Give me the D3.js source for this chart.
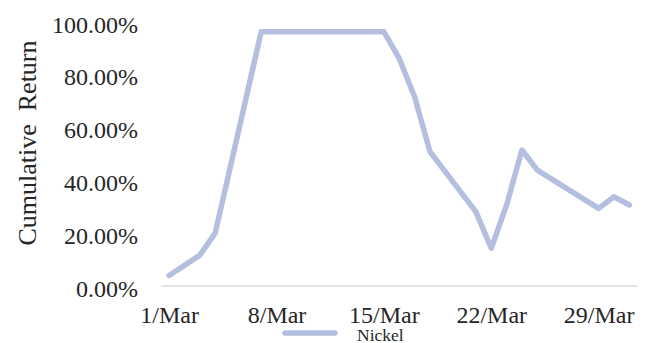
<!DOCTYPE html>
<html>
<head>
<meta charset="utf-8">
<script src="https://cdn.jsdelivr.net/npm/d3@7"></script>
<style>
  html, body { margin: 0; padding: 0; background: #fff; }
  svg { display: block; }
  text { font-family: "Liberation Serif", "Times New Roman", serif; fill: #262626; }
</style>
</head>
<body>
<svg id="chart" width="653" height="343"></svg>
<script>
// Trading days in March and cumulative return of nickel (%)
const dates = ["2022-03-01","2022-03-02","2022-03-03","2022-03-04","2022-03-07","2022-03-08",
  "2022-03-09","2022-03-10","2022-03-11","2022-03-14","2022-03-15","2022-03-16","2022-03-17",
  "2022-03-18","2022-03-21","2022-03-22","2022-03-23","2022-03-24","2022-03-25","2022-03-28",
  "2022-03-29","2022-03-30","2022-03-31"];
const nickel = [4.0, 7.8, 11.7, 20.0, 96.3, 96.3, 96.3, 96.3, 96.3, 96.3, 96.3, 86.2, 71.7,
  50.9, 28.1, 14.3, 30.7, 51.5, 43.9, 33.0, 29.4, 33.8, 30.7];
const yTicks = [0, 20, 40, 60, 80, 100];
const xTickDates = ["2022-03-01","2022-03-08","2022-03-15","2022-03-22","2022-03-29"];
const seriesName = "Nickel";
const yTitle = "Cumulative  Return";

const parse = d3.utcParse("%Y-%m-%d");
const data = dates.map((d, i) => ({ date: parse(d), value: nickel[i] }));

const svg = d3.select("#chart");
const lineColor = "#b4bfdf";
const halfDay = 12 * 3600 * 1000;

const x = d3.scaleUtc()
  .domain([new Date(parse("2022-03-01").getTime() - halfDay),
           new Date(parse("2022-03-31").getTime() + halfDay)])
  .range([161.5, 637]);
const y = d3.scaleLinear().domain([0, 100]).range([286, 22]);

// Baseline
svg.append("line")
  .attr("x1", x.range()[0]).attr("x2", x.range()[1])
  .attr("y1", y(0)).attr("y2", y(0))
  .attr("stroke", "#d9d9d9").attr("stroke-width", 1.3);

// Y axis labels
const yAxis = d3.axisLeft(y).tickValues(yTicks)
  .tickFormat(d => d.toFixed(2) + "%").tickSize(0).tickPadding(0);
const gy = svg.append("g").attr("transform", "translate(138,0)").call(yAxis);
gy.select(".domain").remove();
gy.selectAll("text")
  .attr("font-family", "Liberation Serif, Times New Roman, serif")
  .attr("font-size", 24).attr("fill", "#262626").attr("dy", "0.42em");

// X axis labels
const xAxis = d3.axisBottom(x).tickValues(xTickDates.map(parse))
  .tickFormat(d3.utcFormat("%-d/%b")).tickSize(0).tickPadding(0);
const gx = svg.append("g").attr("transform", "translate(0,306)").call(xAxis);
gx.select(".domain").remove();
gx.selectAll("text")
  .attr("font-family", "Liberation Serif, Times New Roman, serif")
  .attr("font-size", 24).attr("fill", "#262626").attr("dy", "0.72em");

// Y title
svg.append("text")
  .attr("transform", "translate(36,143) rotate(-90)")
  .attr("text-anchor", "middle")
  .attr("font-size", 26)
  .style("white-space", "pre")
  .text(yTitle);

// Series line
const line = d3.line().x(d => x(d.date)).y(d => y(d.value));
svg.append("path")
  .datum(data)
  .attr("d", line)
  .attr("fill", "none")
  .attr("stroke", lineColor)
  .attr("stroke-width", 5.5)
  .attr("stroke-linejoin", "round")
  .attr("stroke-linecap", "round");

// Legend
svg.append("line")
  .attr("x1", 285).attr("x2", 335).attr("y1", 333).attr("y2", 333)
  .attr("stroke", lineColor).attr("stroke-width", 5.5).attr("stroke-linecap", "round");
svg.append("text")
  .attr("x", 357).attr("y", 341)
  .attr("font-size", 17.5)
  .text(seriesName);
</script>
</body>
</html>
